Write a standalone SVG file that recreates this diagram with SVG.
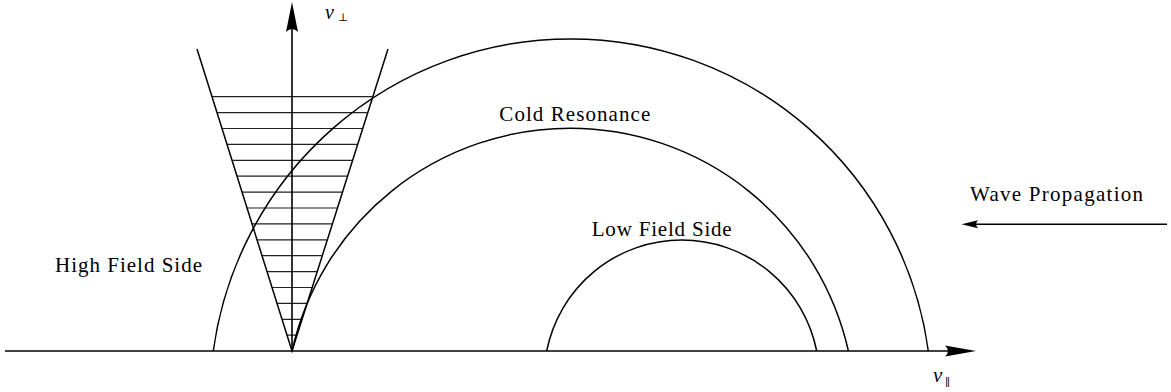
<svg xmlns="http://www.w3.org/2000/svg" width="1171" height="392" viewBox="0 0 1171 392">
<style>
.ln{fill:none;stroke:#000;stroke-width:1.5}
.ax{fill:none;stroke:#000;stroke-width:1.6}
.ht{fill:none;stroke:#222;stroke-width:1.2}
.head{fill:#000;stroke:none}
</style>
<rect width="1171" height="392" fill="#fff"/>
<g id="hatching">
<path class="ht" d="M212,96.7H372M217,112.6H367M222,128.5H362M227,144.4H357M232,160.3H352M237,176.2H347M242,192.1H342M247,208H337M252,223.9H332M257,239.8H327M262,255.7H322M267,271.6H317M272,287.5H312M277,303.4H307M282,319.3H302M287,335.2H297"/>
</g>
<g id="cone">
<path class="ln" d="M197,49L292,351L388,49"/>
</g>
<g id="outer-arc">
<path class="ln" d="M213.3,351A360.8,360.8 0 0 1 928.3,351"/>
</g>
<g id="cold-resonance-arc">
<path class="ln" d="M292,351A285.1,285.1 0 0 1 848.4,351"/>
</g>
<g id="low-field-arc">
<path class="ln" d="M546.7,351A137.6,137.6 0 0 1 816.7,351"/>
</g>
<g id="axes">
<path class="ax" d="M5,351H950"/>
<path class="head" d="M976,351L945,345.5Q951,351 945,356.5Z"/>
<path class="ax" d="M292,351V28"/>
<path class="head" d="M292,2L286,32Q292,26 298,32Z"/>
</g>
<g font-family="Liberation Serif, DejaVu Serif, serif" fill="#000">
<g id="v-perp-label">
<text font-style="italic" font-size="20" x="325" y="18.5">v</text><text font-family="DejaVu Serif, serif" font-size="11" x="338" y="21">⊥</text>
</g>
<g id="v-par-label">
<text font-style="italic" font-size="21" x="933" y="382">v</text><text font-family="DejaVu Serif, serif" font-size="11" x="945" y="386">∥</text>
</g>
<g id="high-field-side">
<text font-size="21" x="55" y="272" textLength="147" lengthAdjust="spacing">High Field Side</text>
</g>
<g id="cold-resonance">
<text font-size="21" x="499.3" y="120.7" textLength="151" lengthAdjust="spacing">Cold Resonance</text>
</g>
<g id="low-field-side">
<text font-size="21" x="591.7" y="235.7" textLength="140" lengthAdjust="spacing">Low Field Side</text>
</g>
<g id="wave-propagation">
<text font-size="21" x="970" y="200.7" textLength="173" lengthAdjust="spacing">Wave Propagation</text>
</g>
</g>
<g id="wave-arrow">
<path class="ln" d="M1167,224.3H972"/>
<path class="head" d="M961.5,224.3L978,220.3Q974,224.3 978,228.3Z"/>
</g>
</svg>
